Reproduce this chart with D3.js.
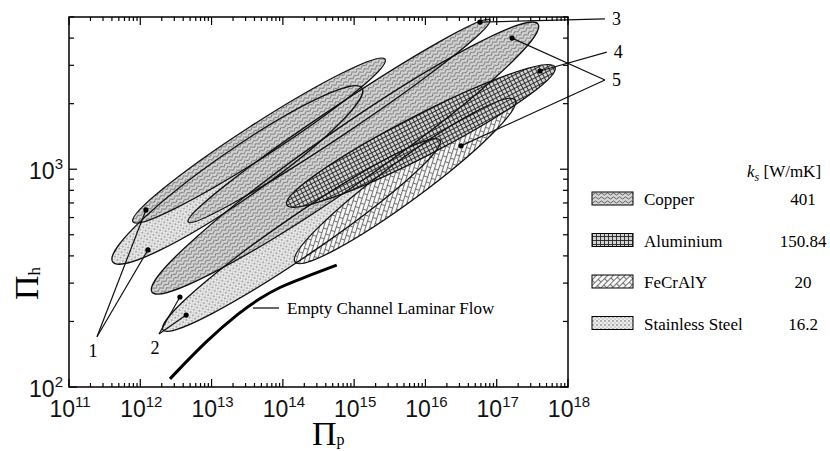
<!DOCTYPE html>
<html>
<head>
<script src="https://d3js.org/d3.v7.min.js"></script>
<style>
  body { margin: 0; background: #fff; }
  .serif { font-family: "Liberation Serif", "Times New Roman", serif; }
  .sans { font-family: "Liberation Sans", Arial, sans-serif; }
</style>
</head>
<body>
<script>
// ---- data ----
var xTicks = [1e11, 1e12, 1e13, 1e14, 1e15, 1e16, 1e17, 1e18];
var xExp = ["11", "12", "13", "14", "15", "16", "17", "18"];
var yTicks = [1e2, 1e3];
var yExp = ["2", "3"];

var materials = ["Copper", "Aluminium", "FeCrAlY", "Stainless Steel"];
var conductivity = ["401", "150.84", "20", "16.2"];

// ellipses: material index, two ends of the long axis [Πp, Πh], minor/major ratio
var ellMat = [3, 3, 0, 0, 0, 2, 1];
var ellStart = [[2.08e12, 183], [4.1e11, 375], [1.46e12, 273], [7.9e11, 573], [4.7e12, 573], [1.48e14, 375], [1.14e14, 686]];
var ellEnd = [[1.6e16, 1360], [1.29e15, 2360], [3.8e17, 4640], [2.71e15, 3200], [8.0e16, 4840], [1.8e17, 2080], [6.56e17, 2945]];
var ellRatio = [0.12, 0.16, 0.12, 0.11, 0.077, 0.146, 0.135];

// marked points
var dotPp = [1.2e12, 1.28e12, 3.6e12, 4.4e12, 5.8e16, 1.64e17, 4.05e17, 3.16e16];
var dotPh = [650, 426, 259, 214, 4740, 4000, 2825, 1280];

// callouts: label, origin, indices of dots it points to
var calloutLabel = ["1", "2", "3", "4", "5"];
var calloutFrom = [[2.47e11, 170], [1.83e12, 175], [3.3e18, 4900], [3.5e18, 3450], [3.3e18, 2570]];
var calloutTo = [[0, 1], [2, 3], [4], [6], [5, 7]];

// empty channel laminar flow curve
var lamPp = [2.61e12, 8.6e12, 2.5e13, 4.8e13, 9.1e13, 1.74e14, 5.7e14];
var lamPh = [109, 164, 221, 256, 288, 313, 363];

// ---- drawing ----
var W = 830, H = 451;
var pl = 69, pr = 568, pt = 17, pb = 387;

var svg = d3.select("body").append("svg").attr("width", W).attr("height", H);

var x = d3.scaleLog().domain([1e11, 1e18]).range([pl, pr]);
var y = d3.scaleLog().domain([1e2, 5e3]).range([pb, pt]);

// patterns
var defs = svg.append("defs");

var pCu = defs.append("pattern").attr("id", "pat0").attr("patternUnits", "userSpaceOnUse")
  .attr("width", 6).attr("height", 4);
pCu.append("rect").attr("width", 6).attr("height", 4).attr("fill", "#d6d6d6");
pCu.append("path").attr("d", "M0,2 L1.5,0.9 L3,2 L4.5,3.1 L6,2")
  .attr("fill", "none").attr("stroke", "#444").attr("stroke-width", 0.8);

var pAl = defs.append("pattern").attr("id", "pat1").attr("patternUnits", "userSpaceOnUse")
  .attr("width", 4).attr("height", 4);
pAl.append("rect").attr("width", 4).attr("height", 4).attr("fill", "#d4d4d4");
pAl.append("path").attr("d", "M0,0.5 H4 M0.5,0 V4")
  .attr("fill", "none").attr("stroke", "#222").attr("stroke-width", 0.9);

function brick(id, angle) {
  var p = defs.append("pattern").attr("id", id).attr("patternUnits", "userSpaceOnUse")
    .attr("width", 10).attr("height", 8).attr("patternTransform", "rotate(" + angle + ")");
  p.append("rect").attr("width", 10).attr("height", 8).attr("fill", "#f6f6f6");
  p.append("path").attr("d", "M0,0.5 H10 M0,4.5 H10 M0.5,0 V4.5 M5.5,4.5 V8")
    .attr("fill", "none").attr("stroke", "#555").attr("stroke-width", 0.8);
}
brick("pat2", -36);
brick("pat2L", -45);

var pSS = defs.append("pattern").attr("id", "pat3").attr("patternUnits", "userSpaceOnUse")
  .attr("width", 4).attr("height", 4);
pSS.append("rect").attr("width", 4).attr("height", 4).attr("fill", "#ececec");
pSS.append("circle").attr("cx", 1).attr("cy", 1).attr("r", 0.75).attr("fill", "#555");
pSS.append("circle").attr("cx", 3).attr("cy", 3).attr("r", 0.6).attr("fill", "#888");

// ellipses
var ells = ellMat.map(function(m, i) {
  var x1 = x(ellStart[i][0]), y1 = y(ellStart[i][1]);
  var x2 = x(ellEnd[i][0]), y2 = y(ellEnd[i][1]);
  var rx = Math.hypot(x2 - x1, y2 - y1) / 2;
  return {
    m: m, cx: (x1 + x2) / 2, cy: (y1 + y2) / 2, rx: rx, ry: rx * ellRatio[i],
    a: Math.atan2(y2 - y1, x2 - x1) * 180 / Math.PI
  };
});

var gE = svg.append("g");
gE.selectAll("ellipse.fill").data(ells).enter().append("ellipse")
  .attr("class", "fill")
  .attr("transform", function(d) { return "translate(" + d.cx + "," + d.cy + ") rotate(" + d.a + ")"; })
  .attr("rx", function(d) { return d.rx; })
  .attr("ry", function(d) { return d.ry; })
  .attr("fill", function(d) { return "url(#pat" + d.m + ")"; })
  .attr("stroke", "none");
gE.selectAll("ellipse.edge").data(ells).enter().append("ellipse")
  .attr("class", "edge")
  .attr("transform", function(d) { return "translate(" + d.cx + "," + d.cy + ") rotate(" + d.a + ")"; })
  .attr("rx", function(d) { return d.rx; })
  .attr("ry", function(d) { return d.ry; })
  .attr("fill", "none").attr("stroke", "#111").attr("stroke-width", 1.3);

// laminar flow curve
var lam = lamPp.map(function(v, i) { return [x(v), y(lamPh[i])]; });
svg.append("path").attr("d", d3.line().curve(d3.curveBasis)(lam))
  .attr("fill", "none").attr("stroke", "#000").attr("stroke-width", 3);

svg.append("line").attr("x1", 253).attr("x2", 279).attr("y1", 308).attr("y2", 308)
  .attr("stroke", "#000").attr("stroke-width", 1.2);
svg.append("text").attr("class", "serif").attr("x", 287).attr("y", 314)
  .attr("font-size", 17).text("Empty Channel Laminar Flow");

// callout lines and dots
calloutLabel.forEach(function(lab, i) {
  var fx = x(calloutFrom[i][0]), fy = y(calloutFrom[i][1]);
  calloutTo[i].forEach(function(j) {
    svg.append("line").attr("x1", fx).attr("y1", fy)
      .attr("x2", x(dotPp[j])).attr("y2", y(dotPh[j]))
      .attr("stroke", "#111").attr("stroke-width", 1.2);
  });
  var t = svg.append("text").attr("class", "serif").attr("font-size", 18).text(lab);
  if (i < 2) t.attr("x", fx - 4).attr("y", fy + 20).attr("text-anchor", "middle");
  else t.attr("x", fx + 7).attr("y", fy + 6);
});
svg.selectAll("circle.dot").data(dotPp).enter().append("circle")
  .attr("class", "dot")
  .attr("cx", function(d) { return x(d); })
  .attr("cy", function(d, i) { return y(dotPh[i]); })
  .attr("r", 2.6).attr("fill", "#000");

// frame
svg.append("rect").attr("x", pl).attr("y", pt)
  .attr("width", pr - pl).attr("height", pb - pt)
  .attr("fill", "none").attr("stroke", "#000").attr("stroke-width", 1.5);

// ticks
var xMinor = [], yMinor = [];
for (var e = 11; e < 18; e++) for (var k = 2; k < 10; k++) xMinor.push(k * Math.pow(10, e));
for (var k2 = 2; k2 < 10; k2++) yMinor.push(k2 * 100);
for (var k3 = 2; k3 <= 5; k3++) yMinor.push(k3 * 1000);

var gT = svg.append("g").attr("stroke", "#000").attr("stroke-width", 1.2);
function xTick(v, len) {
  gT.append("line").attr("x1", x(v)).attr("x2", x(v)).attr("y1", pb).attr("y2", pb - len);
  gT.append("line").attr("x1", x(v)).attr("x2", x(v)).attr("y1", pt).attr("y2", pt + len);
}
function yTick(v, len) {
  gT.append("line").attr("y1", y(v)).attr("y2", y(v)).attr("x1", pl).attr("x2", pl + len);
  gT.append("line").attr("y1", y(v)).attr("y2", y(v)).attr("x1", pr).attr("x2", pr - len);
}
xTicks.forEach(function(v) { xTick(v, 8); });
xMinor.forEach(function(v) { xTick(v, 4); });
yTicks.forEach(function(v) { yTick(v, 8); });
yMinor.forEach(function(v) { yTick(v, 5); });

// tick labels
xTicks.forEach(function(v, i) {
  var t = svg.append("text").attr("class", "sans").attr("x", x(v) + 1).attr("y", 417)
    .attr("text-anchor", "middle").attr("font-size", 23).attr("fill", "#111");
  t.append("tspan").text("10");
  t.append("tspan").attr("dy", -10).attr("font-size", 15).text(xExp[i]);
});
yTicks.forEach(function(v, i) {
  var t = svg.append("text").attr("class", "sans").attr("x", 63).attr("y", y(v) + 10)
    .attr("text-anchor", "end").attr("font-size", 23).attr("fill", "#111");
  t.append("tspan").text("10");
  t.append("tspan").attr("dy", -10).attr("font-size", 15).text(yExp[i]);
});

// axis titles
var xt = svg.append("text").attr("class", "serif").attr("x", 312).attr("y", 445).attr("font-size", 34);
xt.append("tspan").text("\u03A0");
xt.append("tspan").attr("font-size", 16).text("p");

var yt = svg.append("text").attr("class", "serif").attr("transform", "translate(38,300) rotate(-90)")
  .attr("font-size", 34);
yt.append("tspan").text("\u03A0");
yt.append("tspan").attr("font-size", 17).attr("dy", 2).text("h");

// legend
var lg = svg.append("text").attr("class", "serif").attr("x", 747).attr("y", 177).attr("font-size", 17);
lg.append("tspan").attr("font-style", "italic").text("k");
lg.append("tspan").attr("font-style", "italic").attr("font-size", 12).attr("dy", 4).text("s");
lg.append("tspan").attr("dy", -4).text(" [W/mK]");

var legPat = ["url(#pat0)", "url(#pat1)", "url(#pat2L)", "url(#pat3)"];
materials.forEach(function(m, i) {
  var cy = 199 + i * 41.5;
  svg.append("rect").attr("x", 592).attr("y", cy - 7).attr("width", 41).attr("height", 13)
    .attr("fill", legPat[i]).attr("stroke", "#000").attr("stroke-width", 1);
  svg.append("text").attr("class", "serif").attr("x", 644).attr("y", cy + 6)
    .attr("font-size", 17).text(m);
  svg.append("text").attr("class", "serif").attr("x", 803).attr("y", cy + 6)
    .attr("text-anchor", "middle").attr("font-size", 17).text(conductivity[i]);
});
</script>
</body>
</html>
